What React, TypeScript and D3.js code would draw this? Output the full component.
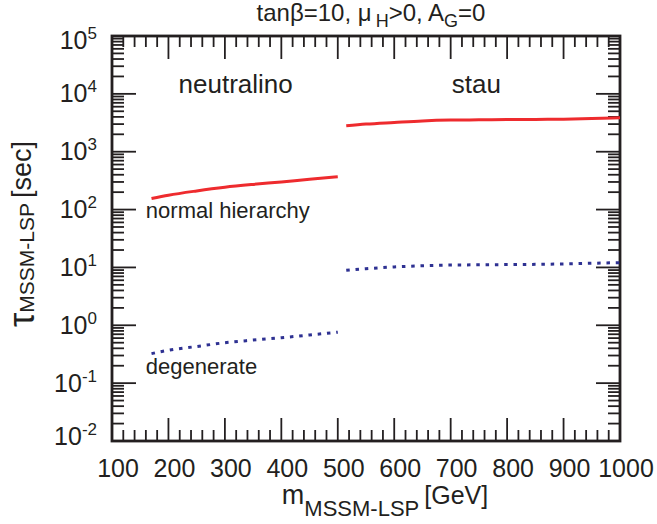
import React from "react";
import * as d3 from "d3";

const neutralinoMass = [170, 200, 250, 300, 350, 400, 450, 500];
const neutralinoNormal = [155, 177, 210, 243, 272, 300, 335, 368];
const neutralinoDegenerate = [0.324, 0.37, 0.43, 0.5, 0.555, 0.61, 0.68, 0.76];

const stauMass = [515, 550, 600, 650, 700, 750, 800, 850, 900, 950, 1000];
const stauNormal = [2800, 3000, 3200, 3400, 3520, 3560, 3600, 3620, 3650, 3740, 3870];
const stauDegenerate = [8.9, 9.5, 10.2, 10.7, 11.0, 11.1, 11.2, 11.3, 11.5, 11.8, 12.1];

const xTicks = [100, 200, 300, 400, 500, 600, 700, 800, 900, 1000];
const yExponents = [5, 4, 3, 2, 1, 0, -1, -2];

const annotations = [
  { text: "neutralino", m: 218, tau: 1.03e4, size: 26 },
  { text: "stau", m: 702, tau: 1.03e4, size: 26 },
  { text: "normal hierarchy", m: 160, tau: 71, size: 22 },
  { text: "degenerate", m: 160, tau: 0.142, size: 22 },
];

const W = 657;
const H = 524;
const L = 112, R = 620, T = 36, B = 441;
const FONT = "'Liberation Sans', Arial, Helvetica, sans-serif";
const INK = "#231f20";

export default function App() {
  const x = d3.scaleLinear().domain([100, 1000]).range([L, R]);
  const y = d3.scaleLog().domain([1e-2, 1e5]).range([B, T]);

  const line = d3
    .line<[number, number]>()
    .x((d) => x(d[0]))
    .y((d) => y(d[1]))
    .curve(d3.curveMonotoneX);

  const pts = (ms: number[], vs: number[]) => ms.map((m, i) => [m, vs[i]] as [number, number]);

  const xMinor: number[] = d3.range(100, 1001, 20).filter((v) => v % 100 !== 0);
  const yMinor: number[] = [];
  for (let e = -2; e < 5; e++) for (let k = 2; k <= 9; k++) yMinor.push(k * Math.pow(10, e));

  return (
    <svg width={W} height={H} style={{ position: "absolute", left: 0, top: 0 }} fontFamily={FONT}>
      <rect width={W} height={H} fill="#fff" />
      {/* ticks */}
      <g stroke={INK} strokeWidth={1.8}>
        {xMinor.map((v) => (
          <g key={"xm" + v}>
            <line x1={x(v)} x2={x(v)} y1={B} y2={B - 11} />
            <line x1={x(v)} x2={x(v)} y1={T} y2={T + 11} />
          </g>
        ))}
        {xTicks.map((v) => (
          <g key={"xM" + v}>
            <line x1={x(v)} x2={x(v)} y1={B} y2={B - 23} />
            <line x1={x(v)} x2={x(v)} y1={T} y2={T + 23} />
          </g>
        ))}
        {yMinor.map((v) => (
          <g key={"ym" + v}>
            <line x1={L} x2={L + 12} y1={y(v)} y2={y(v)} />
            <line x1={R} x2={R - 12} y1={y(v)} y2={y(v)} />
          </g>
        ))}
        {yExponents.map((e) => (
          <g key={"yM" + e}>
            <line x1={L} x2={L + 24} y1={y(Math.pow(10, e))} y2={y(Math.pow(10, e))} />
            <line x1={R} x2={R - 24} y1={y(Math.pow(10, e))} y2={y(Math.pow(10, e))} />
          </g>
        ))}
      </g>
      <rect x={L} y={T} width={R - L} height={B - T} fill="none" stroke={INK} strokeWidth={2.8} />

      {/* curves */}
      <path d={line(pts(neutralinoMass, neutralinoNormal)) || ""} fill="none" stroke="#ee2b2e" strokeWidth={3} />
      <path d={line(pts(stauMass, stauNormal)) || ""} fill="none" stroke="#ee2b2e" strokeWidth={3} />
      <path d={line(pts(neutralinoMass, neutralinoDegenerate)) || ""} fill="none" stroke="#2e3192" strokeWidth={3} strokeDasharray="3.5 5.8" />
      <path d={line(pts(stauMass, stauDegenerate)) || ""} fill="none" stroke="#2e3192" strokeWidth={3} strokeDasharray="3.5 5.8" />

      {/* x tick labels */}
      <g fill={INK} fontSize={25} textAnchor="middle">
        {xTicks.map((v) => (
          <text key={"xl" + v} x={x(v) + 6} y={477}>
            {v}
          </text>
        ))}
      </g>

      {/* y tick labels */}
      <g fill={INK} textAnchor="end">
        {yExponents.map((e) => {
          let yy = y(Math.pow(10, e)) + 8.5;
          if (e === 5) yy += 4;
          if (e === -2) yy -= 5;
          return (
            <text key={"yl" + e} x={97} y={yy} fontSize={25}>
              10
              <tspan fontSize={17} dy={-10}>
                {e < 0 ? "-" + Math.abs(e) : String(e)}
              </tspan>
            </text>
          );
        })}
      </g>

      {/* title */}
      <text x={371} y={21} fill={INK} fontSize={24} textAnchor="middle">
        tanβ=10, μ
        <tspan dx={4} dy={6} fontSize={18}>H</tspan>
        <tspan dy={-6}>&gt;0, A</tspan>
        <tspan dy={6} fontSize={18}>G</tspan>
        <tspan dy={-6}>=0</tspan>
      </text>

      {/* annotations */}
      {annotations.map((a) => (
        <text key={a.text} x={x(a.m)} y={y(a.tau)} fill={INK} fontSize={a.size}>
          {a.text}
        </text>
      ))}

      {/* x title */}
      <text x={385} y={504} fill={INK} fontSize={27} textAnchor="middle">
        m
        <tspan fontSize={22} dy={12}>MSSM-LSP</tspan>
        <tspan dx={5} dy={-12} fontSize={25}>[GeV]</tspan>
      </text>

      {/* y title */}
      <text transform={`translate(34,234) rotate(-90)`} fill={INK} fontSize={36} textAnchor="middle">
        τ
        <tspan fontSize={21} dy={0}>MSSM-LSP</tspan>
        <tspan dx={5} dy={-3} fontSize={27}>[sec]</tspan>
      </text>
    </svg>
  );
}
